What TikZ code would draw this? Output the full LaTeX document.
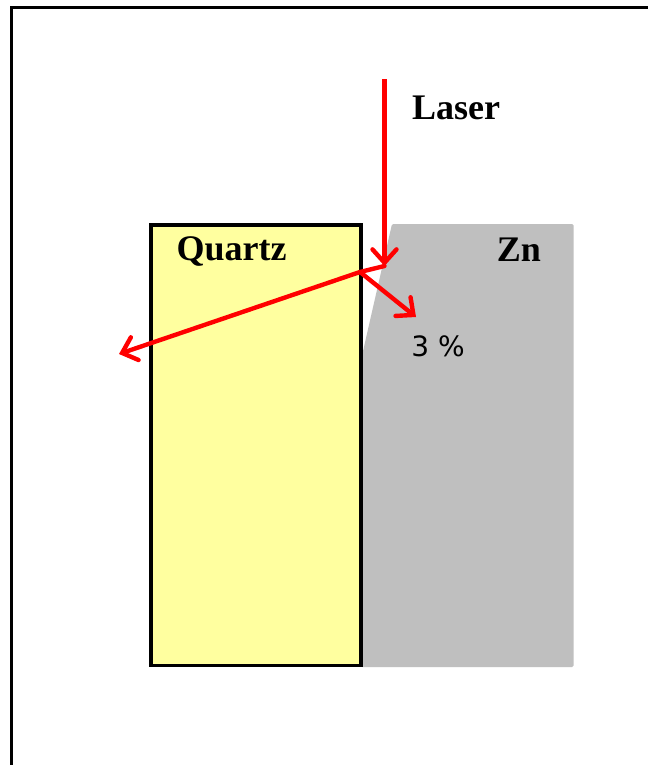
\documentclass[tikz,border=0pt]{standalone}
\usepackage{fontspec}
\setmainfont{Liberation Serif}
\newfontfamily\percentfont{DejaVu Sans}
\usepackage{xcolor}
\usetikzlibrary{positioning, arrows.meta}
\definecolor{quartzfill}{HTML}{FFFF9F}
\definecolor{zincfill}{HTML}{BFBFBF}

\begin{document}
\begin{tikzpicture}[x=0.75pt, y=-0.75pt,
        material/.style={font=\fontsize{27}{30}\selectfont\bfseries, inner sep=0pt},
        beam/.style={draw=red, line width=3.3pt, -{Straight Barb[length=10pt, width=18pt, line width=3.3pt, line cap=round]}},
        beamline/.style={draw=red, line width=3.3pt},
    ]
    \useasboundingbox (0, 0) rectangle (648, 765);
    \fill[white] (0, 0) rectangle (648, 765);

    % Page frame
    \draw[line width=1.6pt] (11.5, 765) -- (11.5, 7.5) -- (648, 7.5);

    % Zinc block with bevelled edge
    \fill[zincfill, rounded corners=1pt] (392, 224) -- (573.5, 224) -- (573.5, 667) -- (361, 667) -- (361, 360) -- cycle;

    % Quartz plate
    \node[draw, fill=quartzfill, line width=2.5pt, outer sep=0pt, minimum width=157.5pt, minimum height=330.4pt, inner sep=0pt, anchor=north west] (quartz) at (151, 225) {};

    % Labels
    \node[material] (laserlabel) at (456, 108) {Laser};
    \node[material] (quartzlabel) at (231.5, 251) {Quartz};
    \node[material] (znlabel) at (519, 250) {Zn};
    \node[font=\percentfont\fontsize{21}{24}\selectfont, inner sep=0pt] (percent) at (438, 346) {3 \%};

    % Beam points
    \coordinate (laserstart) at (384.5, 79);
    \coordinate (laserhit) at (384.5, 266);
    \coordinate (quartzhit) at (360, 272);
    \coordinate (transmitted) at (119, 354);
    \coordinate (reflected) at (416, 317);

    % Beams
    \draw[beam] (laserstart) -- (laserhit);
    \draw[beamline, line cap=round] (laserhit) -- (quartzhit);
    \draw[beam] (quartzhit) -- (transmitted);
    \draw[beam] (quartzhit) -- (reflected);
\end{tikzpicture}
\end{document}
